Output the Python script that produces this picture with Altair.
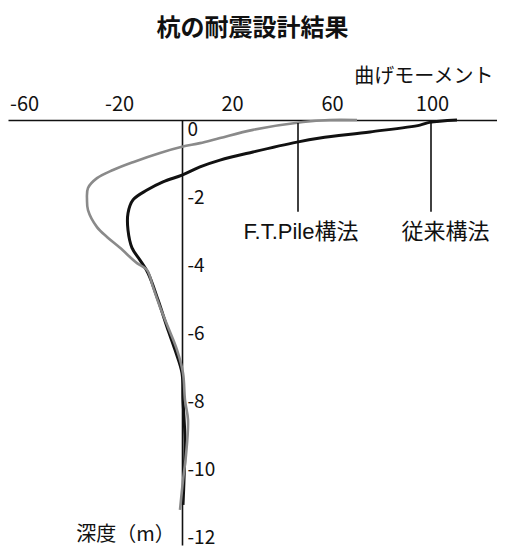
import altair as alt
import pandas as pd

# Gray curve: F.T.Pile構法 (moment, depth m)
gray_moment = [70, 59, 48.4, 28.4, 15.2, 7.2, 0, -8.8, -19.6, -27.6, -34, -37.6, -38, -37.6,
               -34, -30, -24.8, -18, -14, -11.6, -8.8, -5.6, -2, 0.4, 1.2, 2.4, 1.6, 0.4, -0.8]
gray_depth = [0, 0, -0.06, -0.29, -0.53, -0.68, -0.79, -0.97, -1.24, -1.47, -1.71, -2.0, -2.35, -2.65,
              -3.15, -3.44, -3.76, -4.21, -4.41, -4.91, -5.5, -6.09, -6.76, -7.44, -8.24, -8.82, -9.85, -10.6, -11.47]

# Black curve: 従来構法
black_moment = [110, 99, 95.2, 75.2, 55.2, 46, 28.4, 15.2, 7.2, 0, -7.6, -14, -19.6, -21.6, -21.6,
                -20, -16.8, -13.6, -9.6, -6, -2.8, 0, 0.4, 1.2, 0.8, 0.4]
black_depth = [0, -0.07, -0.15, -0.35, -0.53, -0.65, -0.94, -1.18, -1.38, -1.62, -1.82, -2.06, -2.35, -2.74, -3.24,
               -3.76, -4.12, -4.5, -5.29, -6.09, -6.76, -7.44, -8.24, -9.41, -10.59, -11.32]

x_ticks = [-60, -20, 20, 60, 100]
y_ticks = [0, -2, -4, -6, -8, -10, -12]

# Annotations (leader lines and labels)
ann_labels = ["F.T.Pile構法", "従来構法"]
ann_line_x = [46.4, 99.6]
ann_line_top = [-0.09, -0.06]
ann_line_bottom = [-2.7, -2.7]
ann_label_x = [47.6, 105.4]
ann_label_y = [-3.29, -3.29]

rows = []
for i, (m, d) in enumerate(zip(black_moment, black_depth)):
    rows.append({"series": "従来構法", "m": m, "d": d, "i": i})
for i, (m, d) in enumerate(zip(gray_moment, gray_depth)):
    rows.append({"series": "F.T.Pile構法", "m": m, "d": d, "i": i})
df = pd.DataFrame(rows)

ann = pd.DataFrame({
    "label": ann_labels, "x": ann_line_x, "y1": ann_line_top, "y2": ann_line_bottom,
    "lx": ann_label_x, "ly": ann_label_y,
})

FONT = "Noto Sans CJK JP"
LFONT = "Liberation Sans, Noto Sans CJK JP"

xscale = alt.Scale(domain=[-69.6, 126], nice=False, zero=False)
yscale = alt.Scale(domain=[-12.5, 0], nice=False, zero=False)

xaxis = alt.Axis(
    orient="top", values=x_ticks, ticks=False, grid=False, domain=True,
    domainColor="#111", domainWidth=1.6,
    labelExpr="datum.value < 0 ? '-' + abs(datum.value) : '' + datum.value",
    labelFontSize=20, labelFont=FONT, labelColor="#111", labelPadding=6,
    labelOffset={"condition": [{"test": "datum.value == -60", "value": -8},
                               {"test": "datum.value < 0", "value": -13}], "value": 0},
    labelFlush=False, labelOverlap=False,
    title="曲げモーメント", titleFont=FONT, titleFontSize=20, titleFontWeight="normal",
    titleColor="#111", titleX=485, titleY=-44, titleAlign="right", titleBaseline="middle",
)
yaxis = alt.Axis(
    orient="right", offset=-315, values=y_ticks, ticks=False, grid=False, domain=True,
    domainColor="#111", domainWidth=1.6,
    labelExpr="datum.value < 0 ? '-' + abs(datum.value) : '' + datum.value",
    labelFontSize=19, labelFont=FONT, labelColor="#111", labelPadding=5,
    labelAlign="left", labelBaseline="middle", labelOffset=9,
    labelFlush=False, labelOverlap=False,
    title="深度（m）", titleFont=FONT, titleFontSize=20, titleFontWeight="normal",
    titleColor="#111", titleAngle=0, titleX=-57, titleY=414,
    titleAlign="center", titleBaseline="middle",
)

base = alt.Chart(df)

black = base.transform_filter(alt.datum.series == "従来構法").mark_line(
    color="#111", strokeWidth=3, interpolate="catmull-rom"
).encode(
    x=alt.X("m:Q", scale=xscale, axis=xaxis),
    y=alt.Y("d:Q", scale=yscale, axis=yaxis),
    order="i:Q",
)
gray = base.transform_filter(alt.datum.series == "F.T.Pile構法").mark_line(
    color="#8a8a8a", strokeWidth=2.6, interpolate="catmull-rom"
).encode(
    x=alt.X("m:Q", scale=xscale),
    y=alt.Y("d:Q", scale=yscale),
    order="i:Q",
)

leaders = alt.Chart(ann).mark_rule(color="#111", strokeWidth=1.6).encode(
    x=alt.X("x:Q", scale=xscale),
    y=alt.Y("y1:Q", scale=yscale),
    y2="y2:Q",
)
labels = alt.Chart(ann).mark_text(
    font=LFONT, fontSize=22, color="#111", align="center", baseline="middle"
).encode(
    x=alt.X("lx:Q", scale=xscale),
    y=alt.Y("ly:Q", scale=yscale),
    text="label:N",
)

chart = alt.layer(black, gray, leaders, labels).properties(
    width=489, height=425,
    title=alt.TitleParams("杭の耐震設計結果", font=FONT, fontSize=24, fontWeight="bold",
                          color="#111", anchor="middle", offset=25),
    autosize=alt.AutoSizeParams(type="none"),
    padding={"left": 0, "top": 112, "right": 0, "bottom": 8},
    background="white",
).configure_view(stroke=None)

chart.save("out.html", embed_options={"renderer": "svg", "actions": False})
